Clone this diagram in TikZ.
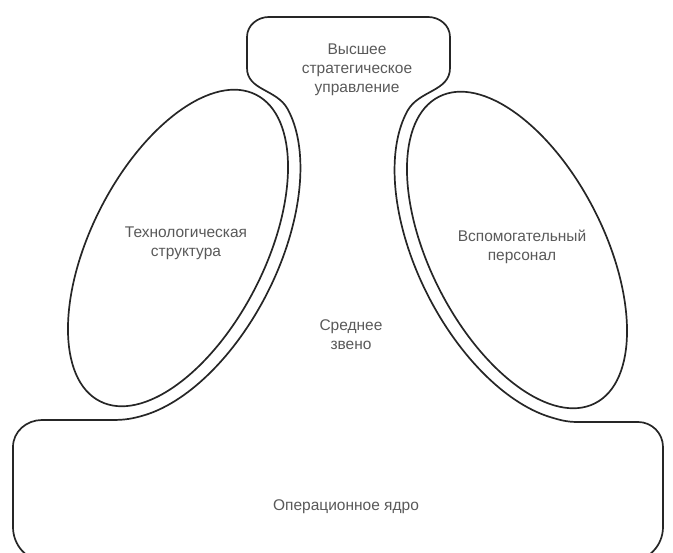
\documentclass[tikz,border=0pt]{standalone}
\usepackage{fontspec}
\setmainfont{Liberation Sans}
\begin{document}
\begin{tikzpicture}[x=1pt,y=1pt,
  outl/.style={draw=black!85, line width=1.7pt, line join=round},
  lbl/.style={text=black!65, align=center, inner sep=0pt, font=\fontsize{15.5}{19}\selectfont}]
\useasboundingbox (0,0) rectangle (673,553);
\clip (0,0) rectangle (673,553);
% outer outline: top apex, middle line, operating core
\draw[outl] (247,516) -- (247,485) to[out=-90,in=119] (287.4,444.33)
 -- plot[domain=70:-62, samples=67, variable=\t] ({178+89.1*cos(\t)+84*sin(\t)}, {305-45.4*cos(\t)+164.8*sin(\t)})
 to[out=197,in=0] (112,133) -- (42,133) to[out=180,in=90] (13,106) -- (13,26) to[out=-90,in=180] (45,-8)
 -- (630,-8) to[out=0,in=-90] (663,26) -- (663,106) to[out=90,in=0] (638,131) -- (578,131)
 to[out=180,in=-17] (549.34,136.18)
 -- plot[domain=-62:70, samples=67, variable=\t] ({517-89.1*cos(\t)-84*sin(\t)}, {303-45.4*cos(\t)+164.8*sin(\t)})
 to[out=61,in=-90] (450,485) -- (450,516) to[out=90,in=0] (428,536) -- (269,536) to[out=180,in=90] (247,516) -- cycle;
% technostructure and support staff
\draw[outl, rotate around={-27:(178,305)}] (178,305) ellipse [x radius=87, y radius=172];
\draw[outl, rotate around={27:(517,303)}] (517,303) ellipse [x radius=87, y radius=172];
% labels
\node[lbl] (apex) at (357,483) {Высшее\\стратегическое\\управление};
\node[lbl] (tech) at (186,310) {Технологическая\\структура};
\node[lbl] (supp) at (522,306) {Вспомогательный\\персонал};
\node[lbl] (mid) at (351,218.5) {Среднее\\звено};
\node[lbl] (core) at (346,46) {Операционное ядро};
\end{tikzpicture}
\end{document}
